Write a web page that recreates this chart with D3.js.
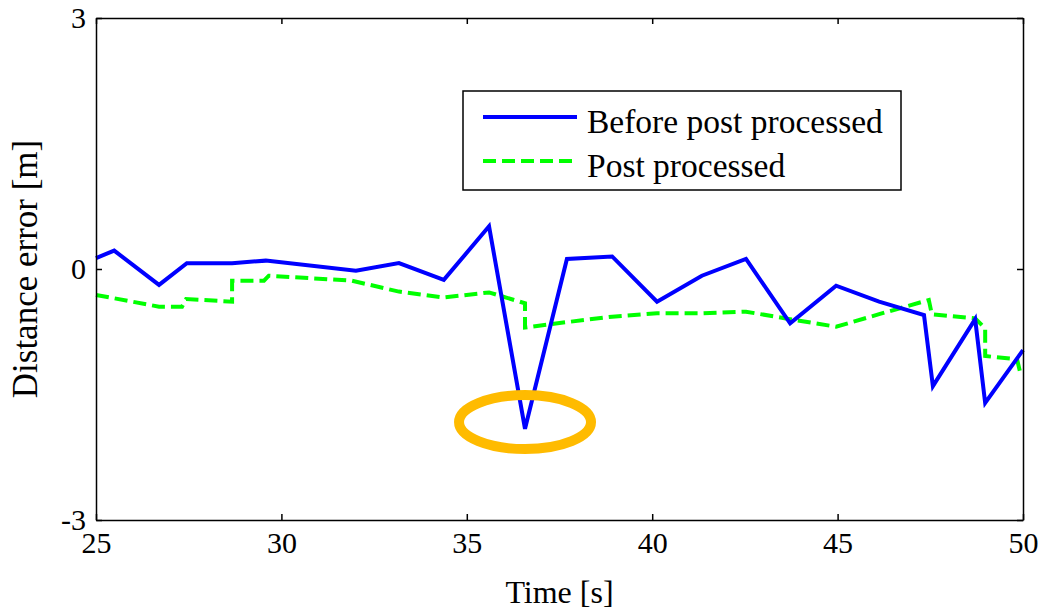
<!DOCTYPE html>
<html lang="en">
    <head>
        <meta charset="UTF-8" />
        <title>Distance error</title>
        <style>
            body { margin: 0; background: #fff; }
        </style>
    </head>
    <body>
        <div id="main"></div>
        <script src="https://cdn.jsdelivr.net/npm/d3@7"></script>
        <script>
            const svgWidth = 1045
            const svgHeight = 611
            const fontFamily = "'Times New Roman', 'Liberation Serif', serif"

            // before post processing (time [s], error [m])
            const beforeTime = [25.0, 25.49, 26.7, 27.45, 28.67, 29.58, 32.01, 33.17, 34.38, 35.6, 36.57, 37.7, 38.92, 40.13, 41.34, 42.53, 43.72, 44.96, 46.12, 47.33, 47.57, 48.71, 48.98, 50.0]
            const beforeError = [0.13, 0.22, -0.19, 0.07, 0.07, 0.1, -0.02, 0.07, -0.13, 0.51, -1.91, 0.12, 0.15, -0.39, -0.08, 0.12, -0.65, -0.2, -0.39, -0.55, -1.4, -0.6, -1.6, -0.97]

            // post processed
            const postTime = [25.0, 26.7, 27.32, 27.43, 28.67, 28.67, 29.53, 29.66, 31.9, 33.17, 34.38, 35.6, 36.57, 36.57, 37.6, 38.92, 40.13, 41.34, 42.53, 43.72, 44.96, 46.12, 47.46, 47.54, 48.71, 48.98, 48.98, 49.84, 49.92, 50.0]
            const postError = [-0.31, -0.45, -0.45, -0.36, -0.39, -0.14, -0.14, -0.08, -0.14, -0.27, -0.34, -0.28, -0.41, -0.7, -0.64, -0.57, -0.53, -0.53, -0.51, -0.6, -0.69, -0.54, -0.37, -0.54, -0.59, -0.71, -1.04, -1.08, -1.23, -1.27]

            const xTicks = [25, 30, 35, 40, 45, 50]
            const yTicks = [-3, 0, 3]
            const seriesNames = ["Before post processed", "Post processed"]
            // highlighted outlier
            const markTime = 36.57
            const markError = -1.83

            const margin = { left: 96, right: 22, top: 18, bottom: 91 }

            const svg = d3
                .select("#main")
                .append("svg")
                .attr("width", svgWidth)
                .attr("height", svgHeight)

            const x = d3
                .scaleLinear()
                .domain([25, 50])
                .range([margin.left, svgWidth - margin.right])
            const y = d3
                .scaleLinear()
                .domain([-3, 3])
                .range([svgHeight - margin.bottom, margin.top])

            const plot = svg.append("g")

            const line = d3
                .line()
                .x((d) => x(d[0]))
                .y((d) => y(d[1]))

            const before = beforeTime.map((t, i) => [t, beforeError[i]])
            const post = postTime.map((t, i) => [t, postError[i]])

            plot.append("path")
                .datum(post)
                .attr("d", line)
                .attr("fill", "none")
                .attr("stroke", "#00ff00")
                .attr("stroke-width", 4)
                .attr("stroke-dasharray", "13,6")

            plot.append("path")
                .datum(before)
                .attr("d", line)
                .attr("fill", "none")
                .attr("stroke", "#0000ff")
                .attr("stroke-width", 4)

            // orange ellipse round the outlier
            plot.append("ellipse")
                .attr("cx", x(markTime))
                .attr("cy", y(markError))
                .attr("rx", 66)
                .attr("ry", 27)
                .attr("fill", "none")
                .attr("stroke", "#ffbb00")
                .attr("stroke-width", 10)

            // axes, ticks inward on all four sides
            const tickLen = 6
            const fmt = (d) => String(d)
            const axisG = svg.append("g").attr("font-family", fontFamily)

            axisG.append("g")
                .attr("transform", `translate(0, ${y(-3)})`)
                .call(d3.axisBottom(x).tickValues(xTicks).tickFormat(fmt).tickSizeInner(-tickLen).tickSizeOuter(0).tickPadding(12))
            axisG.append("g")
                .attr("transform", `translate(0, ${y(3)})`)
                .call(d3.axisTop(x).tickValues(xTicks).tickSizeInner(-tickLen).tickSizeOuter(0).tickFormat(""))
            axisG.append("g")
                .attr("transform", `translate(${x(25)}, 0)`)
                .call(d3.axisLeft(y).tickValues(yTicks).tickFormat(fmt).tickSizeInner(-tickLen).tickSizeOuter(0).tickPadding(10))
            axisG.append("g")
                .attr("transform", `translate(${x(50)}, 0)`)
                .call(d3.axisRight(y).tickValues(yTicks).tickSizeInner(-tickLen).tickSizeOuter(0).tickFormat(""))

            axisG.selectAll(".domain").attr("stroke", "#000").attr("stroke-width", 1.5)
            axisG.selectAll(".tick line").attr("stroke", "#000").attr("stroke-width", 1.5)
            axisG.selectAll(".tick text")
                .attr("font-size", 30)
                .attr("font-family", fontFamily)
                .attr("fill", "#000")

            svg.append("text")
                .attr("x", (x(25) + x(50)) / 2)
                .attr("y", 603)
                .attr("text-anchor", "middle")
                .attr("font-size", 32)
                .attr("font-family", fontFamily)
                .text("Time [s]")

            svg.append("text")
                .attr("transform", `translate(37, ${(y(3) + y(-3)) / 2}) rotate(-90)`)
                .attr("text-anchor", "middle")
                .attr("font-size", 35)
                .attr("font-family", fontFamily)
                .text("Distance error [m]")

            // legend
            const legend = svg.append("g").attr("transform", "translate(463, 91)")
            legend.append("rect")
                .attr("width", 438)
                .attr("height", 99)
                .attr("fill", "#fff")
                .attr("stroke", "#000")
                .attr("stroke-width", 1.5)
            const legendStyles = [
                { color: "#0000ff", dash: null },
                { color: "#00ff00", dash: "13,6" },
            ]
            seriesNames.forEach((name, i) => {
                const row = legend.append("g").attr("transform", `translate(0, ${26 + i * 44})`)
                row.append("line")
                    .attr("x1", 20)
                    .attr("x2", 114)
                    .attr("stroke", legendStyles[i].color)
                    .attr("stroke-width", 4)
                    .attr("stroke-dasharray", legendStyles[i].dash)
                row.append("text")
                    .attr("x", 124)
                    .attr("y", 16)
                    .attr("font-size", 33.5)
                    .attr("font-family", fontFamily)
                    .text(name)
            })
        </script>
    </body>
</html>
